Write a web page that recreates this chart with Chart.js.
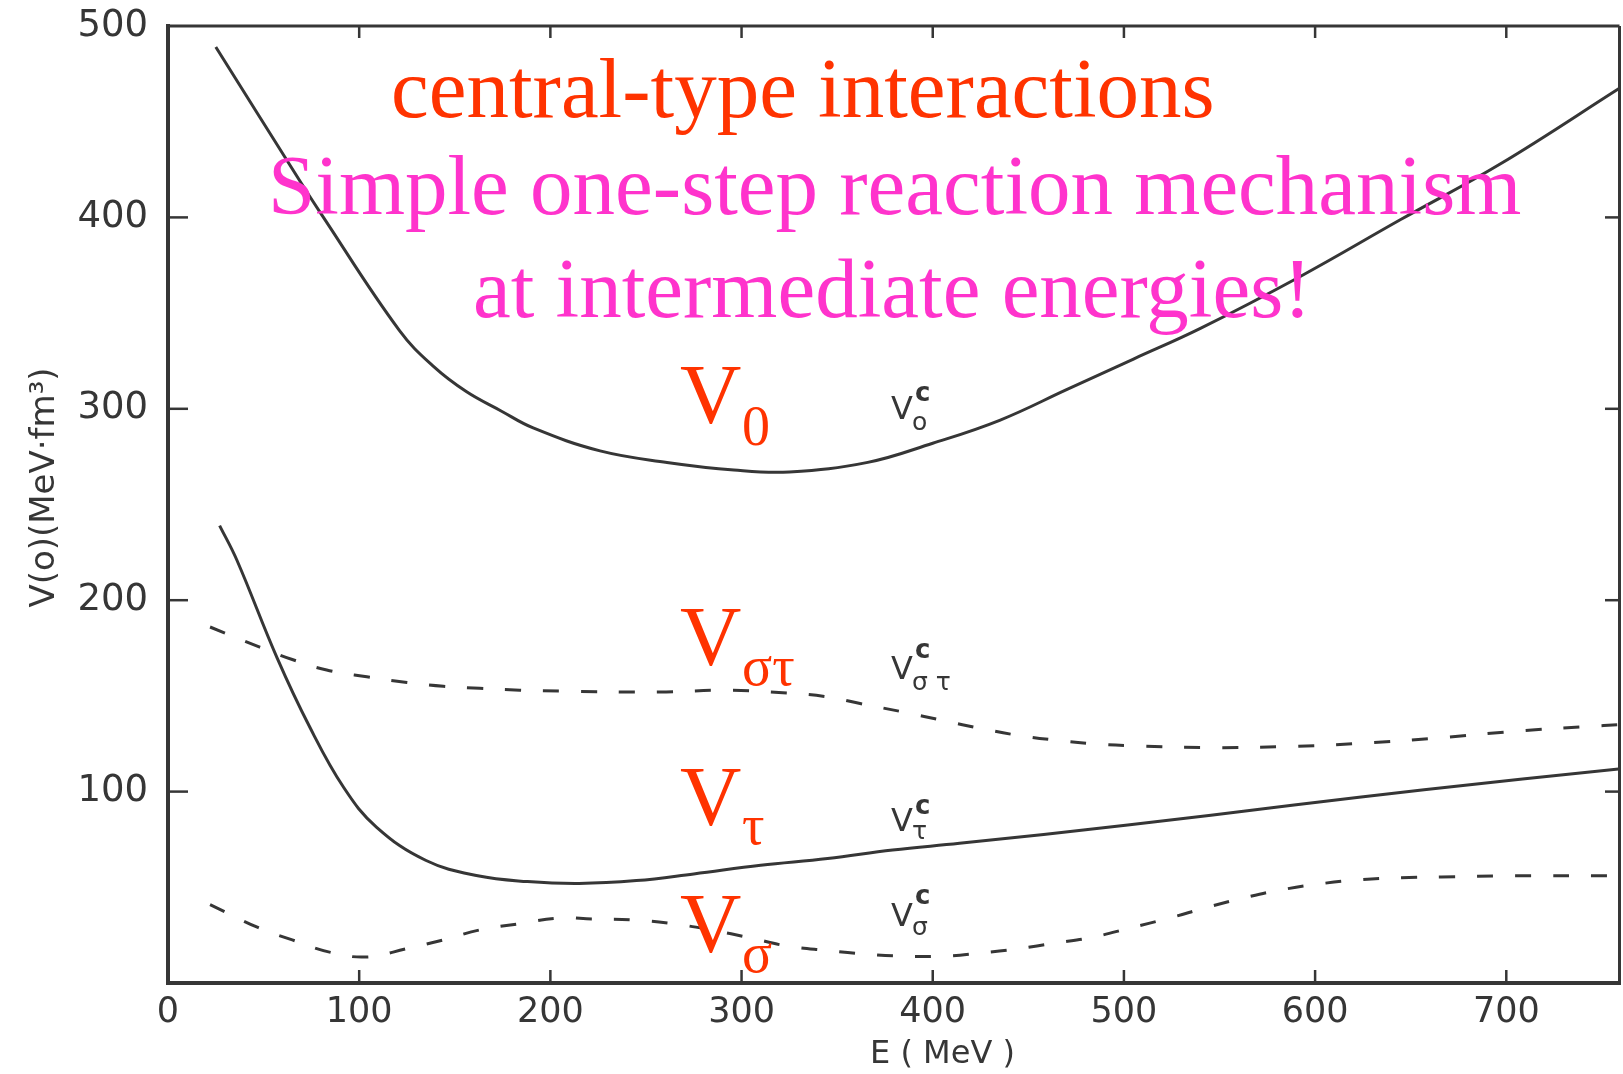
<!DOCTYPE html>
<html>
<head>
<meta charset="utf-8">
<script src="https://cdn.jsdelivr.net/npm/chart.js@4.4.1/dist/chart.umd.min.js"></script>
<style>
  html, body { margin: 0; padding: 0; background: #fff; }
  #wrap { width: 1623px; height: 1074px; }
</style>
</head>
<body>
<div id="wrap"><canvas id="potChart"></canvas></div>
<script>
// central-type interaction strengths V(0)
const eV0 = [25, 69, 80, 121, 139, 156, 174, 191, 226, 261, 296, 325, 366, 400, 435, 470, 505, 540, 592, 645, 697, 760];
const vV0 = [489, 419, 402, 341, 322, 309, 299, 290, 278, 272, 268, 267, 272, 282, 294, 310, 326, 342, 369, 399, 428, 468];

const eVst = [22, 48, 65, 83, 104, 125, 144, 163, 184, 205, 257, 292, 324, 345, 362, 385, 406, 425, 444, 463, 484, 503, 544, 583, 620, 664, 704, 742, 760];
const vVst = [186, 175.5, 169, 163.5, 160, 157, 155, 154, 153, 152.5, 152, 153, 151.5, 149.5, 146, 141.5, 137, 133, 129.5, 127, 125, 124, 123, 123.5, 125, 128, 131.5, 134, 135];

const eVt = [27, 36, 57, 74, 92, 109, 135, 162, 188, 215, 245, 275, 310, 345, 379, 414, 502, 589, 657, 760];
const vVt = [239, 221, 170, 134, 102, 81.5, 64, 56, 53, 52, 53.5, 57, 61.5, 65, 69.5, 73, 82.5, 93, 101, 112];

const eVs = [22, 47, 65, 85, 104, 125, 144, 163, 184, 205, 222, 243, 264, 284, 305, 324, 345, 366, 385, 406, 425, 444, 465, 484, 503, 524, 544, 565, 584, 604, 624, 645, 666, 704, 760];
const vVs = [41, 29, 22.5, 16, 13.6, 18, 22.5, 27.7, 31, 34, 33.4, 33, 31, 27.7, 23.5, 19.3, 17, 15, 14, 14, 15.7, 17.8, 21, 24, 28.7, 34, 39.7, 45, 49, 52, 54, 55, 55.4, 56, 56];

const xTicks = [0, 100, 200, 300, 400, 500, 600, 700];
const yTicks = [100, 200, 300, 400, 500];

const ink = '#363636';
const red = '#ff3300';
const pink = '#ff33cc';

function pts(es, vs) {
    return es.map((e, i) => ({ x: e, y: vs[i] }));
}

function curve(label, es, vs, dashed) {
    return {
        label: label,
        data: pts(es, vs),
        borderColor: ink,
        borderWidth: 3,
        borderDash: dashed ? [16, 22] : [],
        pointRadius: 0,
        tension: 0.4,
        fill: false,
    };
}

// keep the plot box where the scan has it: no extra room for edge labels
function noEdgePadding(s) {
    s.paddingTop = 0;
    s.paddingBottom = 0;
    s.paddingLeft = 0;
    s.paddingRight = 0;
}

// box around the plot with the small inward ticks of the original
const frame = {
    id: 'frame',
    afterDatasetsDraw(chart) {
        const { ctx, chartArea: a, scales: { x, y } } = chart;
        const seg = (x1, y1, x2, y2) => {
            ctx.beginPath();
            ctx.moveTo(x1, y1);
            ctx.lineTo(x2, y2);
            ctx.stroke();
        };
        ctx.save();
        ctx.strokeStyle = ink;
        ctx.lineWidth = 4;
        seg(a.left, a.top - 2, a.left, a.bottom + 2);
        seg(a.left - 2, a.bottom, a.right, a.bottom);
        ctx.lineWidth = 3;
        seg(a.left, a.top, a.right - 1.5, a.top);
        seg(a.right - 1.5, a.top, a.right - 1.5, a.bottom);
        ctx.lineWidth = 2.5;
        xTicks.slice(1).forEach(v => {
            const px = x.getPixelForValue(v);
            seg(px, a.bottom, px, a.bottom - 13);
            seg(px, a.top, px, a.top + 12);
        });
        yTicks.slice(0, -1).forEach(v => {
            const py = y.getPixelForValue(v);
            seg(a.left, py, a.left + 20, py);
            seg(a.right, py, a.right - 16, py);
        });
        ctx.restore();
    },
};

// slide overlays and the hand-lettered curve tags
const notes = {
    id: 'notes',
    afterDraw(chart) {
        const ctx = chart.ctx;
        ctx.save();
        ctx.textAlign = 'left';
        ctx.textBaseline = 'alphabetic';

        ctx.font = '85px "Liberation Serif"';
        ctx.fillStyle = red;
        ctx.fillText('central-type interactions', 391, 117);
        ctx.fillStyle = pink;
        ctx.fillText('Simple one-step reaction mechanism', 268, 214);
        ctx.fillText('at intermediate energies!', 473, 317);

        const big = [['0', 423, 445], ['στ', 665, 685], ['τ', 825, 844], ['σ', 952, 972]];
        ctx.fillStyle = red;
        big.forEach(([sub, yb, ys]) => {
            ctx.font = '85px "Liberation Serif"';
            ctx.fillText('V', 680, yb);
            ctx.font = '56px "Liberation Serif"';
            ctx.fillText(sub, 742, ys);
        });

        const tags = [['o', 419, 430, 401], ['σ τ', 679, 690, 658], ['τ', 831, 839, 814], ['σ', 926, 935, 904]];
        ctx.fillStyle = ink;
        tags.forEach(([sub, yb, ys, yc]) => {
            ctx.font = '32px "DejaVu Sans"';
            ctx.fillText('V', 891, yb);
            ctx.font = '25px "DejaVu Sans"';
            ctx.fillText(sub, 912, ys);
            ctx.font = 'bold 26px "DejaVu Sans"';
            ctx.fillText('c', 915, yc);
        });
        ctx.restore();
    },
};

new Chart(document.getElementById('potChart'), {
    type: 'line',
    data: {
        datasets: [
            curve('V0', eV0, vV0, false),
            curve('Vστ', eVst, vVst, true),
            curve('Vτ', eVt, vVt, false),
            curve('Vσ', eVs, vVs, true),
        ],
    },
    options: {
        responsive: true,
        maintainAspectRatio: false,
        animation: false,
        layout: { padding: { top: 26, right: 2, left: 0, bottom: 0 } },
        scales: {
            x: {
                type: 'linear',
                min: 0,
                max: 760,
                afterBuildTicks: s => { s.ticks = xTicks.map(v => ({ value: v })); },
                afterFit: s => { s.height = 91; noEdgePadding(s); },
                grid: { display: false, drawTicks: false },
                border: { display: false },
                ticks: {
                    padding: 9,
                    color: ink,
                    font: { family: 'DejaVu Sans', size: 35 },
                },
                title: {
                    display: true,
                    text: '\u2003\u2003\u2003E ( MeV )',
                    color: ink,
                    font: { family: 'DejaVu Sans', size: 32 },
                    padding: { top: 0, bottom: 0 },
                },
            },
            y: {
                type: 'linear',
                min: 0,
                max: 500,
                afterBuildTicks: s => { s.ticks = yTicks.map(v => ({ value: v })); },
                afterFit: s => { s.width = 168; noEdgePadding(s); },
                grid: { display: false, drawTicks: false },
                border: { display: false },
                ticks: {
                    padding: 20,
                    color: ink,
                    font: { family: 'DejaVu Sans', size: 37 },
                },
                title: {
                    display: true,
                    text: '\u2003V(o)(MeV·fm³)',
                    color: ink,
                    font: { family: 'DejaVu Sans', size: 34 },
                    padding: { top: 25, bottom: 0 },
                },
            },
        },
        plugins: {
            legend: { display: false },
            tooltip: { enabled: false },
        },
    },
    plugins: [frame, notes],
});
</script>
</body>
</html>
